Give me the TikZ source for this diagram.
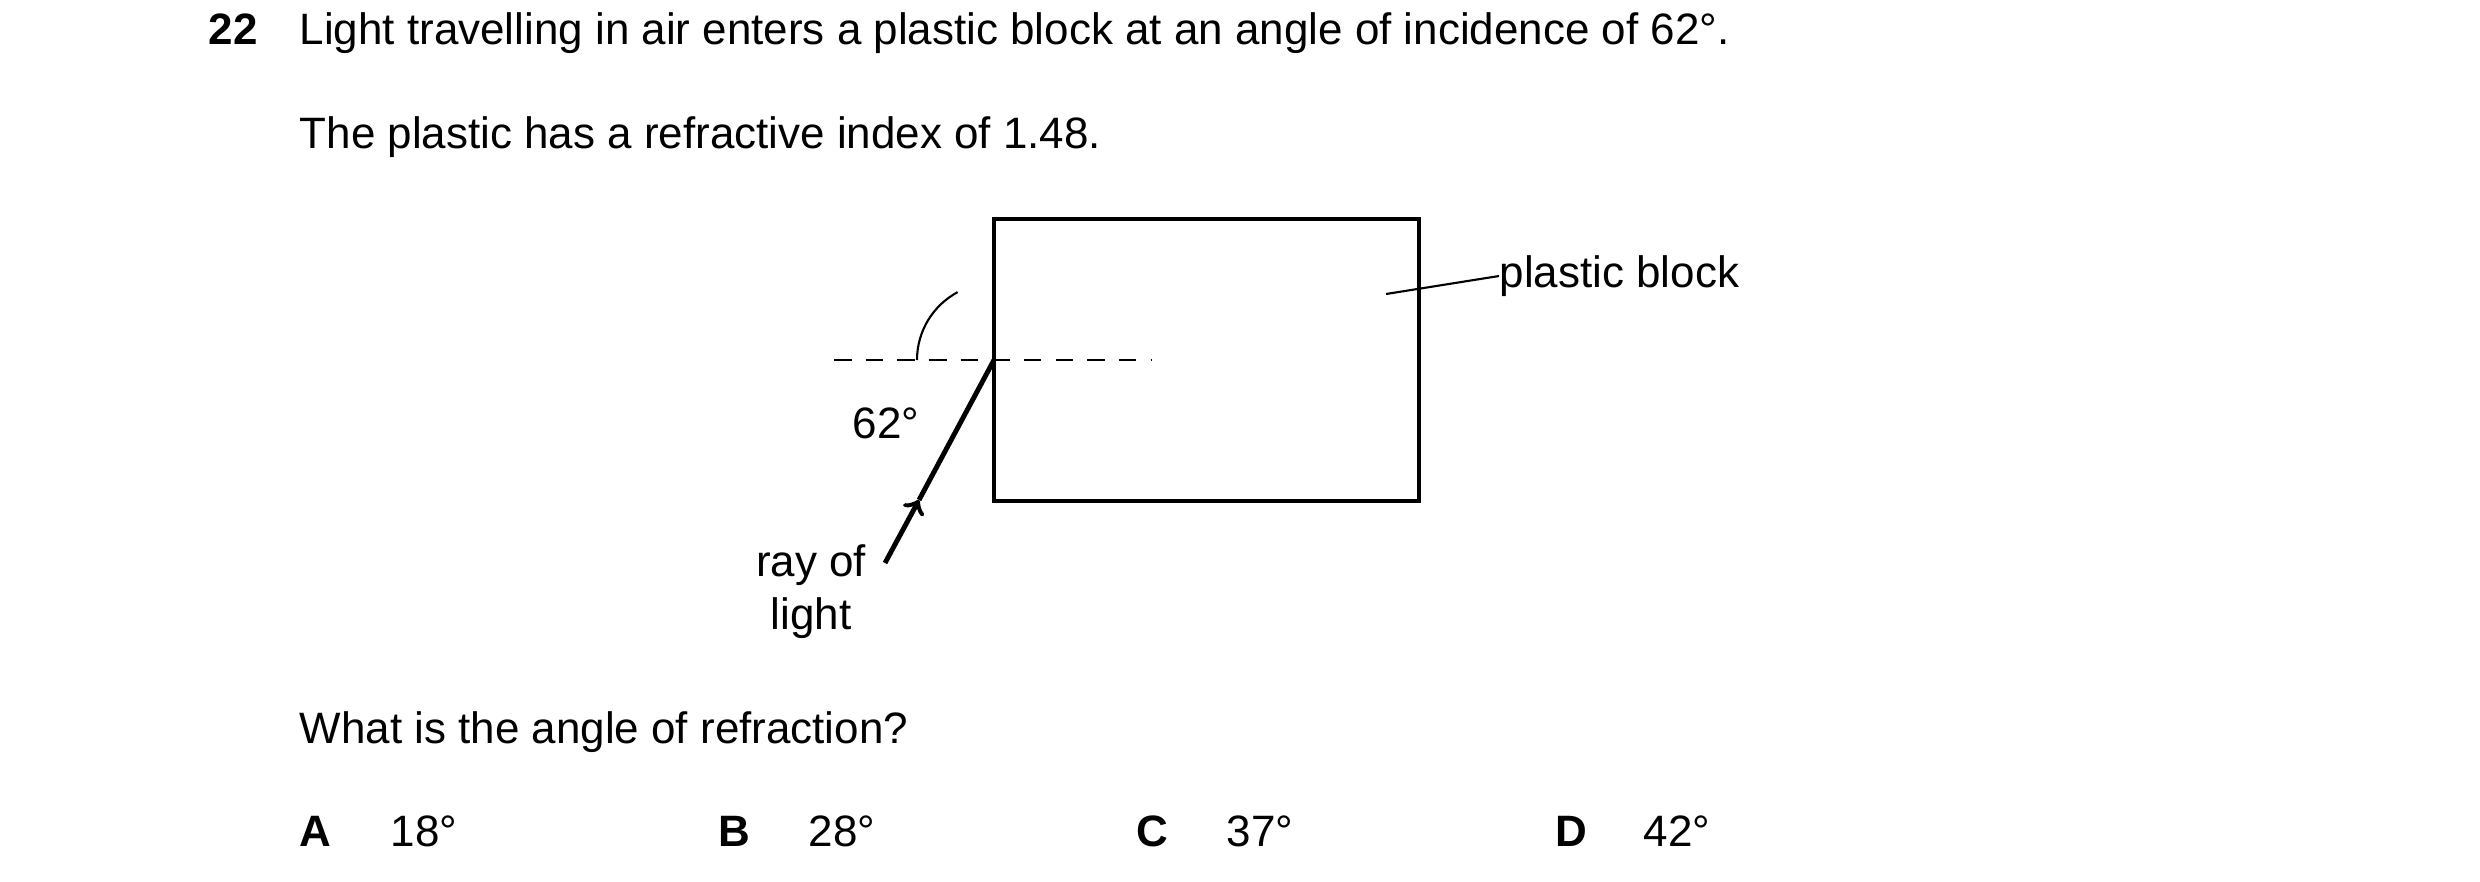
\documentclass[tikz,border=0pt]{standalone}
\usepackage{fontspec}
\setmainfont{Liberation Sans}
\usetikzlibrary{arrows, positioning}

\begin{document}
\begin{tikzpicture}[
    x=0.01cm, y=-0.01cm,
    txt/.style={anchor=base west, inner sep=0pt, font=\fontsize{12.5}{15}\selectfont},
    lbl/.style={inner sep=0pt, font=\fontsize{12.5}{15}\selectfont, align=center},
    block/.style={draw, line width=1.4pt},
    ray/.style={line width=1.4pt},
    normal/.style={dashed, line width=0.6pt, dash pattern=on 5pt off 4pt}
]
\useasboundingbox (0,0) rectangle (2480,881);

% Question text
\node[txt, font=\fontsize{12.5}{15}\selectfont\bfseries] (num) at (208,44) {22};
\node[txt] (line1) at (299,44) {Light travelling in air enters a plastic block at an angle of incidence of 62°.};
\node[txt] (line2) at (299,148) {The plastic has a refractive index of 1.48.};

% Block and normal
\draw[block] (994,219) rectangle (1419,501);
\coordinate (hit) at (994,360);
\coordinate (nl) at (834,360);
\coordinate (nr) at (1152,360);
\draw[normal] (nl) -- (nr);

% Ray of light
\coordinate (tail) at (885,563);
\coordinate (mid) at (919,500);
\draw[ray, ->] (tail) -- (mid);
\draw[ray] (mid) -- (hit);
\draw[line width=0.6pt] (hit) ++(180:77) arc (180:241.8:77);
\node[lbl] (angle) at (886,423) {62°};

% Labels
\node[lbl] (raylbl) at (811,592) {ray of\\light};
\node[txt, anchor=west] (blocklbl) at (1499,276) {plastic block};
\coordinate (pointer) at (1386,294);
\draw[line width=0.6pt] (pointer) -- (blocklbl.west);

% Question and options
\node[txt] (ask) at (299,743) {What is the angle of refraction?};
\node[txt, font=\fontsize{12.5}{15}\selectfont\bfseries] (optA) at (299,846) {A};
\node[txt] (ansA) at (390,846) {18°};
\node[txt, font=\fontsize{12.5}{15}\selectfont\bfseries] (optB) at (718,846) {B};
\node[txt] (ansB) at (808,846) {28°};
\node[txt, font=\fontsize{12.5}{15}\selectfont\bfseries] (optC) at (1136,846) {C};
\node[txt] (ansC) at (1226,846) {37°};
\node[txt, font=\fontsize{12.5}{15}\selectfont\bfseries] (optD) at (1555,846) {D};
\node[txt] (ansD) at (1643,846) {42°};

\end{tikzpicture}
\end{document}
